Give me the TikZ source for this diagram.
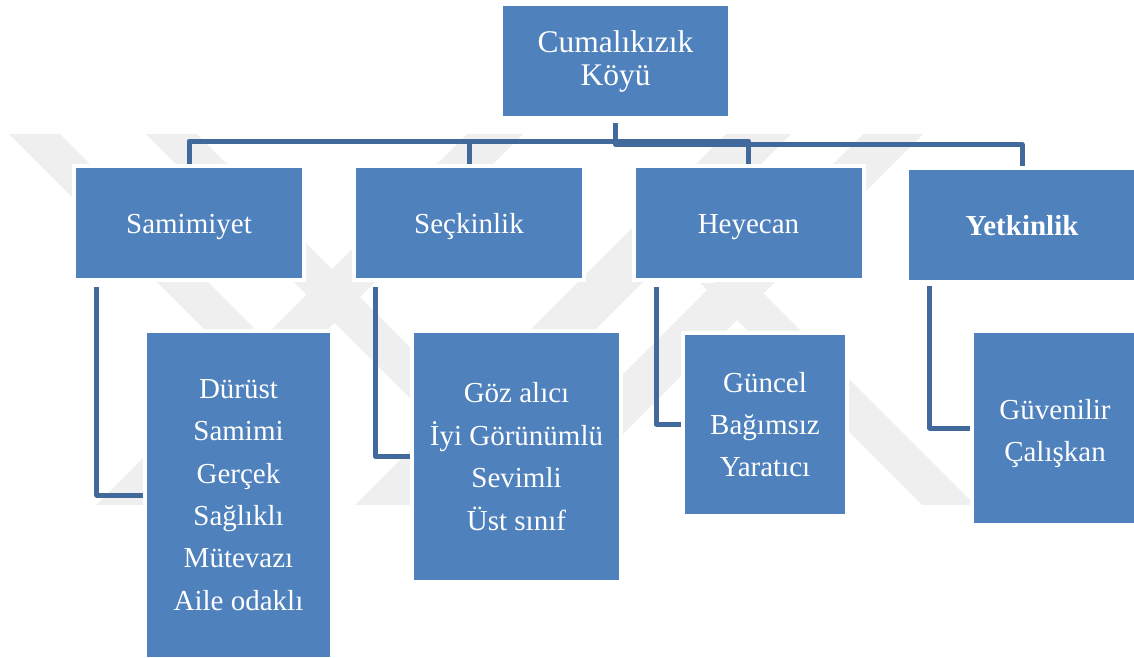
\documentclass[tikz,border=0pt]{standalone}
\usepackage{fontspec}
\setmainfont{Liberation Serif}
\definecolor{boxblue}{HTML}{4F81BD}
\definecolor{linkblue}{HTML}{41699B}
\definecolor{markgrey}{HTML}{EFEFEF}
\pgfdeclarelayer{mark}
\pgfdeclarelayer{links}
\pgfsetlayers{mark,links,main}
\tikzset{
  box/.style={fill=boxblue, preaction={draw=white, line width=8pt},
    text=white, align=center, inner sep=0pt},
  rootbox/.style={box, minimum width=225pt, minimum height=110pt,
    font=\fontsize{31.5}{33}\selectfont},
  headbox/.style={box, minimum width=226pt, minimum height=110pt,
    text height=20pt, text depth=0pt, font=\fontsize{29}{34}\selectfont},
  itembox/.style={box, font=\fontsize{29}{42.4}\selectfont},
  link/.style={draw=linkblue, line width=5pt, line join=round},
  band/.style={fill=markgrey, draw=none}
}
\begin{document}
\begin{tikzpicture}[x=1pt, y=-1pt]
\useasboundingbox (0,0) rectangle (1134,657);

% top of the hierarchy
\node[rootbox] (root) at (615.5,61) {Cumalıkızık\\Köyü};

% brand dimensions
\node[headbox] (sam) at (189,223)   {Samimiyet};
\node[headbox] (sec) at (469,223)   {Seçkinlik};
\node[headbox] (hey) at (748.5,223) {Heyecan};
\node[headbox] (yet) at (1022,225)  {\bfseries Yetkinlik};

% attributes of each dimension
\node[itembox, minimum width=183pt, minimum height=324pt] (dur) at (238.5,495)
  {Dürüst\\Samimi\\Gerçek\\Sağlıklı\\Mütevazı\\Aile odaklı};
\node[itembox, minimum width=205pt, minimum height=247pt] (goz) at (516.5,456.5)
  {Göz alıcı\\İyi Görünümlü\\Sevimli\\Üst sınıf};
\node[itembox, minimum width=160pt, minimum height=179pt] (gun) at (765,424.5)
  {Güncel\\Bağımsız\\Yaratıcı};
\node[itembox, minimum width=162pt, minimum height=190pt] (guv) at (1055,428)
  {\rule{0pt}{31pt}Güvenilir\\Çalışkan};

% elbow connectors
\coordinate (rs)   at ([yshift=-7pt]root.south);
\coordinate (barL) at (615.5,141);
\coordinate (barR) at (615.5,144.5);
\begin{pgfonlayer}{links}
  \draw[link] (rs) -- (barL) -| (sam.north);
  \draw[link] (rs) -- (barL) -| (sec.north);
  \draw[link] (rs) -- (barL) -| (hey.north);
  \draw[link] (rs) -- (barR) -| (yet.north);
  \draw[link] ([shift={(21pt,-9pt)}]sam.south west) |- (dur.west);
  \draw[link] ([shift={(20pt,-9pt)}]sec.south west) |- (goz.west);
  \draw[link] ([shift={(21pt,-9pt)}]hey.south west) |- (gun.west);
  \draw[link] ([shift={(21pt,-6pt)}]yet.south west) |- (guv.west);
\end{pgfonlayer}

% faint background emblem
\begin{pgfonlayer}{mark}
  \fill[band] (9,134) -- (60,134) -- (266,340) -- (215,340) -- cycle;
  \fill[band] (467,134) -- (523,134) -- (152,505) -- (96,505) -- cycle;
  \fill[band] (146,134) -- (197,134) -- (493,430) -- (442,430) -- cycle;
  \fill[band] (726,134) -- (791,134) -- (420,505) -- (355,505) -- cycle;
  \fill[band] (863,134) -- (923,134) -- (552,505) -- (492,505) -- cycle;
  \fill[band] (700,283) -- (753,283) -- (975,505) -- (922,505) -- cycle;
\end{pgfonlayer}
\end{tikzpicture}
\end{document}
